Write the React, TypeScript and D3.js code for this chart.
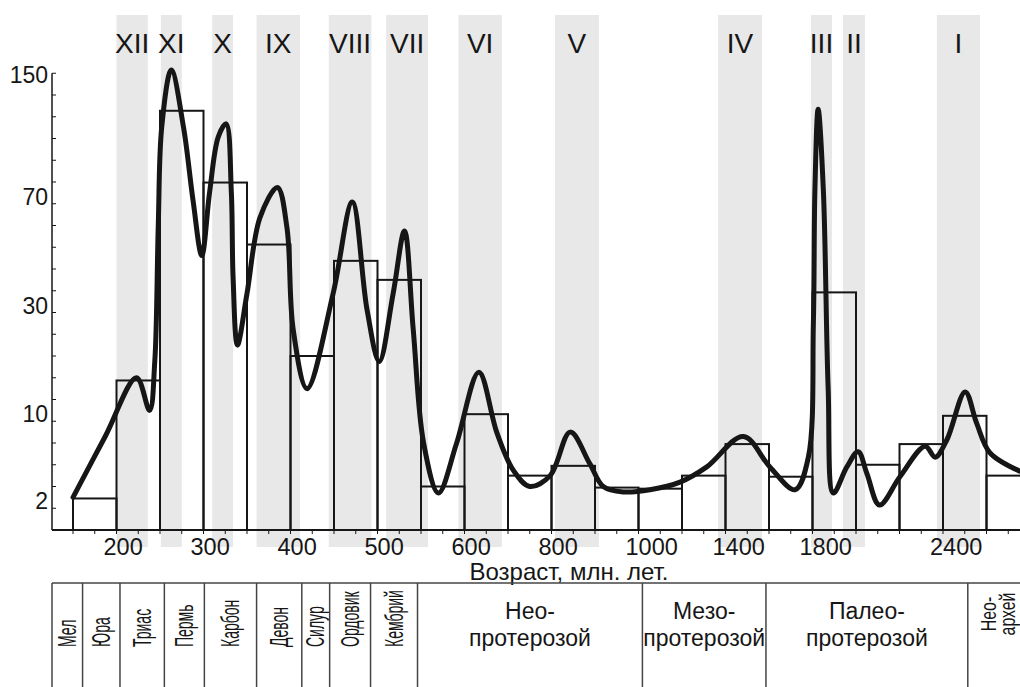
import React from "react";
import * as d3 from "d3";

// age bins (млн. лет) - every bin is drawn with the same width
const binEdges = [150, 200, 250, 300, 350, 400, 450, 500, 550, 600, 700, 800, 900, 1000, 1200, 1400, 1600, 1800, 2000, 2200, 2400, 2600, 2800];
const binCounts = [2.9, 17.5, 127, 83, 55, 22, 49, 42, 4.0, 11.3, 5.0, 5.9, 3.9, 3.8, 5.0, 7.9, 4.9, 37.4, 6.0, 7.9, 11.0, 5.0];

// probability density curve
const curveAges = [150, 187, 223, 238, 244, 248, 252, 263, 277, 288, 298, 307, 317, 326, 332, 334, 339, 350, 365, 385, 396, 403, 419, 449, 471, 488, 502, 518, 531, 541, 553, 570, 591, 633, 674, 712, 750, 797, 843, 888, 919, 965, 1053, 1191, 1314, 1482, 1604, 1720, 1781, 1804, 1811, 1826, 1850, 1872, 1896, 1958, 2010, 2050, 2108, 2202, 2318, 2364, 2418, 2502, 2555, 2616, 2754];
const curveValues = [3.0, 8.6, 18, 12, 21, 62, 117, 152, 117, 72, 51, 77, 111, 119, 77, 43, 24, 37, 65, 80, 61, 27, 16, 37, 71, 31, 21, 37, 60, 27, 8, 3.4, 8, 19, 9, 5.5, 4, 5, 9, 6.1, 4, 3.5, 3.7, 4.4, 5.8, 8.6, 5.8, 3.7, 6.7, 28, 78, 128, 78, 16, 3.4, 5.8, 7.2, 5.2, 2.3, 4.9, 7.7, 6.7, 8.3, 15.4, 9.8, 7.1, 5.4];

const xTickLabels = [200, 300, 400, 500, 600, 800, 1000, 1400, 1800, 2400];
const yTickLabels = [2, 10, 30, 70, 150];

// shaded age clusters
const clusterNames = ["XII", "XI", "X", "IX", "VIII", "VII", "VI", "V", "IV", "III", "II", "I"];
const clusterFrom = [200, 251, 310, 361, 444, 510, 593, 808, 1366, 1793, 1940, 2372];
const clusterTo = [236, 275, 334, 411, 493, 558, 686, 909, 1568, 1890, 2041, 2570];

// geological time scale under the chart
const periodNames = ["Мел", "Юра", "Триас", "Пермь", "Карбон", "Девон", "Силур", "Ордовик", "Кембрий", "Нео-|протерозой", "Мезо-|протерозой", "Палео-|протерозой", "Нео-|архей"];
const periodBounds = [161, 204, 255, 301, 361, 413, 445, 492, 546, 1018, 1586, 2514];
const verticalPeriods = [true, true, true, true, true, true, true, true, true, false, false, false, true];

const W = 1020;
const H = 687;
const axisX = 52;
const firstBinX = 73;
const binW = 43.5;
const baseY = 530;
const step = 21.75;
const font = "'Liberation Sans', Arial, sans-serif";
const ink = "#161616";

export default function App() {
  const x = d3.scaleLinear()
    .domain(binEdges)
    .range(binEdges.map((_, i) => firstBinX + i * binW));

  const y = d3.scaleLinear()
    .domain([0, 10, 30, 70, 150])
    .range([baseY, baseY - 5 * step, baseY - 10 * step, baseY - 15 * step, baseY - 21 * step]);

  const line = d3.line<number>()
    .x((_, i) => x(curveAges[i]))
    .y((d) => y(d))
    .curve(d3.curveCatmullRom.alpha(0.5));

  // minor ticks: bin edges and bin middles
  const xTicks: number[] = [];
  binEdges.forEach((e, i) => {
    xTicks.push(x(e));
    if (i < binEdges.length - 1) xTicks.push((x(e) + x(binEdges[i + 1])) / 2);
  });
  const yTop = y(150);
  const yTicks = d3.range(1, 22).map((i) => baseY - ((baseY - yTop) / 21) * i);
  // labels sit a bit above their ticks, the top one just under the axis end
  const labelY = (v: number) => Math.max(y(v) - 7, yTop + 2);

  const tableTop = 583;
  const colEdges = [axisX, ...periodBounds.map((b) => x(b)), W + 10];

  return (
    <svg width={W} height={H} style={{ position: "absolute", left: 0, top: 0, background: "#fff" }} fontFamily={font}>
      {/* shaded clusters */}
      {clusterNames.map((n, i) => (
        <rect key={"b" + n} x={x(clusterFrom[i])} y={15} width={x(clusterTo[i]) - x(clusterFrom[i])} height={547 - 15} fill="#e8e8e8" />
      ))}
      {clusterNames.map((n, i) => (
        <text key={"t" + n} x={(x(clusterFrom[i]) + x(clusterTo[i])) / 2} y={53} fontSize={28} textAnchor="middle" fill={ink}>{n}</text>
      ))}

      {/* histogram */}
      {binCounts.map((c, i) => (
        <rect key={"h" + i} x={x(binEdges[i])} y={y(c)} width={x(binEdges[i + 1]) - x(binEdges[i])} height={baseY - y(c)} fill="none" stroke={ink} strokeWidth={2} />
      ))}

      {/* curve */}
      <path d={line(curveValues) || ""} fill="none" stroke={ink} strokeWidth={5} strokeLinejoin="round" strokeLinecap="round" />

      {/* y axis */}
      <line x1={axisX} x2={axisX} y1={baseY} y2={yTop} stroke={ink} strokeWidth={1.5} />
      {yTicks.map((t, i) => (
        <line key={"yt" + i} x1={axisX} x2={axisX + 4} y1={t} y2={t} stroke={ink} strokeWidth={1} />
      ))}
      {yTickLabels.map((v) => (
        <text key={"yl" + v} x={48} y={labelY(v)} dy="0.35em" fontSize={23} textAnchor="end" fill={ink}>{v}</text>
      ))}

      {/* x axis */}
      <line x1={axisX} x2={W} y1={baseY} y2={baseY} stroke={ink} strokeWidth={2} />
      {xTicks.map((t, i) => (
        <line key={"xt" + i} x1={t} x2={t} y1={baseY} y2={baseY + 4} stroke={ink} strokeWidth={1} />
      ))}
      {xTickLabels.map((v) => (
        <text key={"xl" + v} x={x(v) - 13} y={555} fontSize={23.5} fill={ink}>{v}</text>
      ))}
      <text x={569} y={580} fontSize={24} textAnchor="middle" fill={ink}>Возраст, млн. лет.</text>

      {/* time scale table */}
      <line x1={axisX} x2={W} y1={tableTop} y2={tableTop} stroke="#444" strokeWidth={1.5} />
      {colEdges.slice(0, -1).map((e, i) => (
        <line key={"c" + i} x1={e} x2={e} y1={tableTop} y2={H} stroke="#444" strokeWidth={1.5} />
      ))}
      {periodNames.map((name, i) => {
        const cx = (colEdges[i] + Math.min(colEdges[i + 1], W + 10)) / 2;
        const parts = name.split("|");
        if (verticalPeriods[i] && parts.length === 1) {
          return (
            <text key={"p" + i} transform={`translate(${cx},${647}) rotate(-90) scale(0.56,1)`} fontSize={25} fill={ink}>
              <tspan x={0} y={0} dy="0.35em">{name}</tspan>
            </text>
          );
        }
        if (verticalPeriods[i]) {
          const cxv = (colEdges[i] + 1028) / 2;
          return (
            <text key={"p" + i} transform={`translate(${cxv},${614}) rotate(-90) scale(0.72,1)`} fontSize={22} textAnchor="middle" fill={ink}>
              {parts.map((p, j) => (
                <tspan key={j} x={0} y={(j - (parts.length - 1) / 2) * 19} dy="0.35em">{p}</tspan>
              ))}
            </text>
          );
        }
        return (
          <text key={"p" + i} x={cx} y={619} fontSize={23} textAnchor="middle" fill={ink}>
            {parts.map((p, j) => (
              <tspan key={j} x={cx} dy={j === 0 ? 0 : 27}>{p}</tspan>
            ))}
          </text>
        );
      })}
    </svg>
  );
}
